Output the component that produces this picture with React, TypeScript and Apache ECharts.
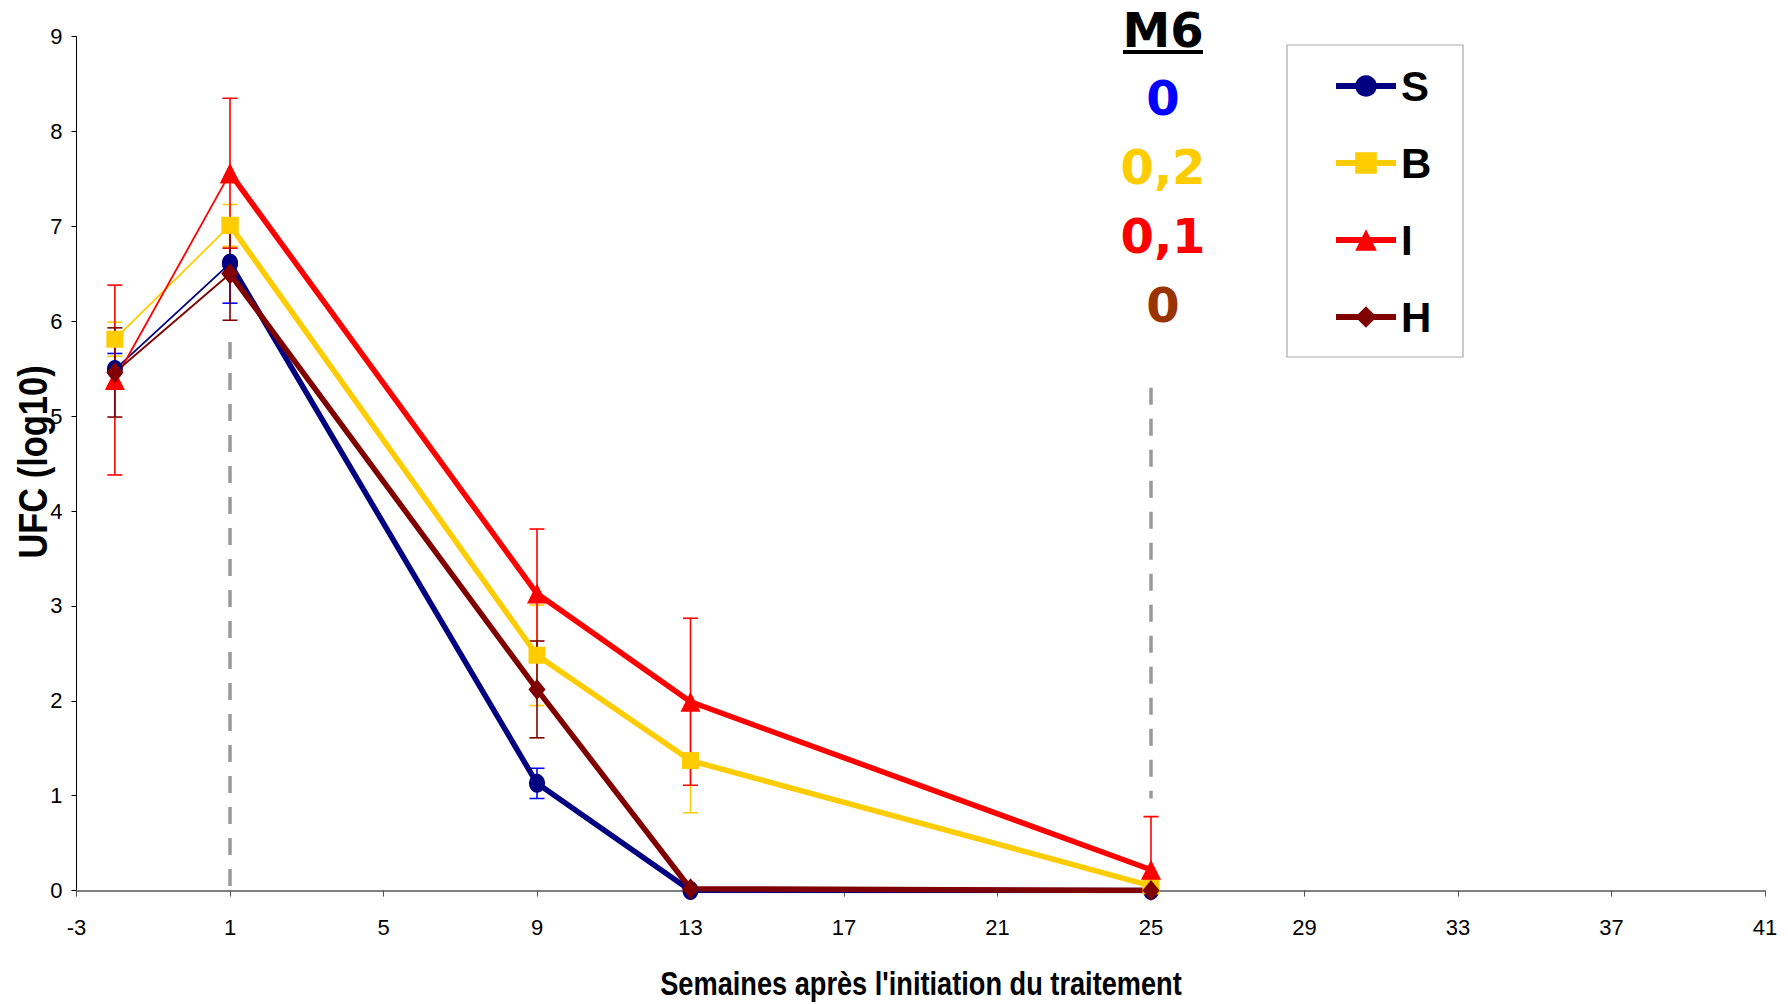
import React, { useEffect, useRef } from "react";
import * as echarts from "echarts";

// ---- data ----
const weeks = [-2, 1, 9, 13, 25];
const seriesNames = ["S", "B", "I", "H"];
const valuesS = [5.49, 6.61, 1.13, 0.0, 0.0];
const valuesB = [5.81, 7.01, 2.48, 1.37, 0.05];
const valuesI = [5.38, 7.56, 3.13, 1.99, 0.22];
const valuesH = [5.46, 6.5, 2.12, 0.02, 0.0];
const errS = [0.17, 0.42, 0.16, 0, 0];
const errB = [0.18, 0.22, 0.53, 0.55, 0];
const errI = [1.0, 0.79, 0.68, 0.88, 0.56];
const errH = [0.47, 0.49, 0.51, 0, 0];
const xTicks = { min: -3, max: 41, interval: 4 };
const yTicks = { min: 0, max: 9, interval: 1 };
const xTitle = "Semaines après l'initiation du traitement";
const yTitle = "UFC (log10)";
const m6Title = "M6";
const m6Values = ["0", "0,2", "0,1", "0"];
// dashed reference lines: [week, top, bottom]
const refLines = [
  [1, 5.78, 0],
  [25, 5.3, 0.97],
];

const lineColors = ["#000080", "#FFCC00", "#FF0000", "#800000"];
const errColors = ["#0000FF", "#FFCC00", "#FF0000", "#800000"];
const m6Colors = ["#0000FF", "#FFCC00", "#FF0000", "#993300"];
const symbols = ["circle", "rect", "triangle", "diamond"];
const symbolSizes: any[] = [[16, 19], 17, 20, [17, 21]];

export default function App() {
  const ref = useRef<HTMLDivElement>(null);
  useEffect(() => {
    if (!ref.current) return;
    const chart = echarts.init(ref.current, null, { renderer: "svg" });
    const allValues = [valuesS, valuesB, valuesI, valuesH];
    const allErr = [errS, errB, errI, errH];

    const series: any[] = [];
    refLines.forEach((r, i) => {
      series.push({
        type: "line",
        name: "ref" + i,
        data: [
          [r[0], r[1]],
          [r[0], r[2]],
        ],
        symbol: "none",
        silent: true,
        z: 1,
        lineStyle: { color: "#999999", width: 3.5, type: [17, 14] },
      });
    });
    allValues.forEach((vals, si) => {
      const data = vals
        .map((v, i) => [weeks[i], v - allErr[si][i], v + allErr[si][i]])
        .filter((d, i) => allErr[si][i] > 0);
      series.push({
        type: "custom",
        name: "err" + si,
        data,
        z: 2,
        silent: true,
        clip: true,
        encode: { x: 0, y: [1, 2] },
        renderItem: (params: any, api: any) => {
          const xv = api.value(0);
          const pLo = api.coord([xv, api.value(1)]);
          const pHi = api.coord([xv, api.value(2)]);
          const w = 7.5;
          const style = { stroke: errColors[si], lineWidth: 1.6 };
          return {
            type: "group",
            children: [
              { type: "line", shape: { x1: pHi[0], y1: pHi[1], x2: pLo[0], y2: pLo[1] }, style },
              { type: "line", shape: { x1: pHi[0] - w, y1: pHi[1], x2: pHi[0] + w, y2: pHi[1] }, style },
              { type: "line", shape: { x1: pLo[0] - w, y1: pLo[1], x2: pLo[0] + w, y2: pLo[1] }, style },
            ],
          };
        },
      });
    });
    allValues.forEach((vals, si) => {
      series.push({
        type: "line",
        name: seriesNames[si] + "_start",
        data: [
          [weeks[0], vals[0]],
          [weeks[1], vals[1]],
        ],
        z: 3,
        symbol: symbols[si],
        symbolSize: symbolSizes[si],
        itemStyle: { color: lineColors[si] },
        lineStyle: { color: lineColors[si], width: 1.8 },
      });
    });
    allValues.forEach((vals, si) => {
      series.push({
        type: "line",
        name: seriesNames[si],
        data: weeks.slice(1).map((w, i) => [w, vals[i + 1]]),
        z: 4,
        symbol: symbols[si],
        symbolSize: symbolSizes[si],
        itemStyle: { color: lineColors[si] },
        lineStyle: { color: lineColors[si], width: 5.5 },
      });
    });

    const graphic: any[] = [
      {
        type: "rect",
        shape: { x: 1287, y: 45, width: 176, height: 312 },
        style: { fill: "#ffffff", stroke: "#aaaaaa", lineWidth: 1.2 },
        z: 0,
      },
      {
        type: "text",
        x: 1163,
        y: 30,
        style: {
          text: m6Title,
          fill: "#000",
          font: "bold 48px 'DejaVu Sans'",
          textAlign: "center",
          textVerticalAlign: "middle",
        },
      },
      {
        type: "rect",
        shape: { x: 1123, y: 50, width: 80, height: 4 },
        style: { fill: "#000" },
      },
      ...m6Values.map((t, i) => ({
        type: "text",
        x: 1163,
        y: 98 + i * 69,
        style: {
          text: t,
          fill: m6Colors[i],
          font: "bold 48px 'DejaVu Sans'",
          textAlign: "center",
          textVerticalAlign: "middle",
        },
      })),
      {
        type: "text",
        x: 921,
        y: 983,
        scaleX: 0.8,
        style: {
          text: xTitle,
          fill: "#000",
          font: "bold 34px 'Liberation Sans', Arial, sans-serif",
          textAlign: "center",
          textVerticalAlign: "middle",
        },
      },
      {
        type: "text",
        x: 33,
        y: 462,
        rotation: Math.PI / 2,
        scaleX: 0.84,
        style: {
          text: yTitle,
          fill: "#000",
          font: "bold 41px 'Liberation Sans', Arial, sans-serif",
          textAlign: "center",
          textVerticalAlign: "middle",
        },
      },
    ];

    const tickFont = "'Liberation Sans', Arial, sans-serif";
    chart.setOption({
      animation: false,
      backgroundColor: "#ffffff",
      grid: { left: 76.5, right: 23, top: 36.5, bottom: 113.4 },
      legend: {
        data: seriesNames,
        orient: "vertical",
        left: 1333,
        top: 64,
        padding: 0,
        itemWidth: 60,
        itemHeight: 27,
        itemGap: 33,
        selectedMode: false,
        lineStyle: { width: 6 },
        textStyle: {
          fontFamily: "'Liberation Sans', Arial, sans-serif",
          fontWeight: "bold",
          fontSize: 42,
          lineHeight: 44,
          color: "#000",
        },
      },
      xAxis: {
        type: "value",
        min: xTicks.min,
        max: xTicks.max,
        interval: xTicks.interval,
        splitLine: { show: false },
        axisLine: { onZero: false, lineStyle: { color: "#808080", width: 2 } },
        axisTick: { show: true, length: 6, lineStyle: { color: "#555", width: 1 } },
        axisLabel: {
          margin: 26,
          fontFamily: tickFont,
          fontSize: 22,
          color: "#000",
        },
      },
      yAxis: {
        type: "value",
        min: yTicks.min,
        max: yTicks.max,
        interval: yTicks.interval,
        splitLine: { show: false },
        axisLine: { show: true, onZero: false, lineStyle: { color: "#000", width: 1 } },
        axisTick: { show: true, length: 5, lineStyle: { color: "#000", width: 1 } },
        axisLabel: {
          margin: 14,
          fontFamily: tickFont,
          fontSize: 22,
          color: "#000",
        },
      },
      graphic,
      series,
    });
    return () => chart.dispose();
  }, []);
  return (
    <div
      ref={ref}
      style={{ position: "fixed", left: 0, top: 0, width: 1788, height: 1004 }}
    />
  );
}
